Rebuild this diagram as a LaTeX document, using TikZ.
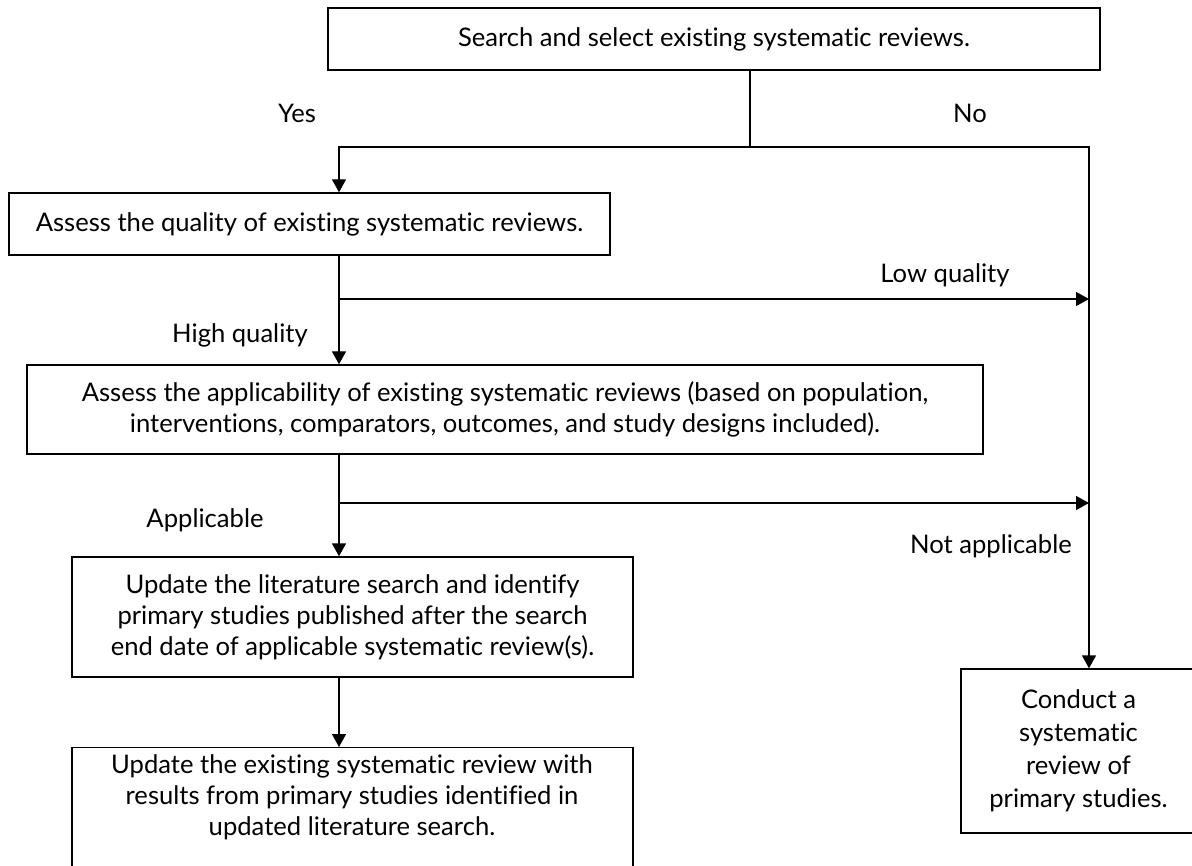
\documentclass[tikz,border=0pt]{standalone}
\usepackage{fontspec}
\setmainfont{Lato}[Ligatures=NoCommon]
\usetikzlibrary{arrows.meta}
\begin{document}
\begin{tikzpicture}[x=1pt, y=-1pt, line width=1.4pt,
    >={Triangle[length=13pt,width=14pt]},
    font=\fontsize{25.6}{31}\selectfont,
    box/.style={draw, align=center, inner sep=0pt},
    lbl/.style={inner sep=0pt, text height=17pt, text depth=5pt}]
    \useasboundingbox (0,0) rectangle (1192,866);
    % boxes
    \node[box, minimum width=772pt, minimum height=62pt] (search) at (714,39) {Search and select existing systematic reviews.};
    \node[box, minimum width=601pt, minimum height=62pt] (quality) at (309.5,224) {Assess the quality of existing systematic reviews.};
    \node[box, minimum width=956pt, minimum height=89pt] (applic) at (505,409.5) {Assess the applicability of existing systematic reviews (based on population,\\ interventions, comparators, outcomes, and study designs included).};
    \node[box, minimum width=561pt, minimum height=120pt] (litsearch) at (352.5,617) {Update the literature search and identify\\ primary studies published after the search\\ end date of applicable systematic review(s).};
    \node[box, anchor=north, minimum width=561pt, minimum height=133pt] (update) at (352.5,747) {};
    \node[align=center, inner sep=0pt] (updatetext) at (352,797) {Update the existing systematic review with\\ results from primary studies identified in\\ updated literature search.};
    \node[box, minimum width=235pt, minimum height=164pt] (conduct) at (1078.5,751) {Conduct a\\[2pt] systematic\\[2pt] review of\\[2pt] primary studies.};
    % turning points
    \coordinate (split) at (750,147);
    \coordinate (yesturn) at (339,147);
    \coordinate (noturn) at (1089,147);
    \coordinate (lowq) at (339,299);
    \coordinate (lowend) at (1089,299);
    \coordinate (notap) at (339,503);
    \coordinate (notapend) at (1089,503);
    % connectors
    \draw (search.south -| split) -- (split);
    \draw [->] (split) -- (yesturn) -- (quality.north -| yesturn);
    \draw [->] (split) -- (noturn) -- (conduct.north -| noturn);
    \draw [->] (quality.south -| yesturn) -- (applic.north -| yesturn);
    \draw [->] (lowq) -- (lowend);
    \draw [->] (applic.south -| yesturn) -- (litsearch.north -| yesturn);
    \draw [->] (notap) -- (notapend);
    \draw [->] (litsearch.south -| yesturn) -- (update.north -| yesturn);
    % labels
    \node[lbl] (yeslbl) at (297,117) {Yes};
    \node[lbl] (nolbl) at (970,117) {No};
    \node[lbl] (lowlbl) at (945,277) {Low quality};
    \node[lbl] (highlbl) at (240,337) {High quality};
    \node[lbl] (applbl) at (205,521) {Applicable};
    \node[lbl] (notaplbl) at (991,547) {Not applicable};
\end{tikzpicture}
\end{document}
